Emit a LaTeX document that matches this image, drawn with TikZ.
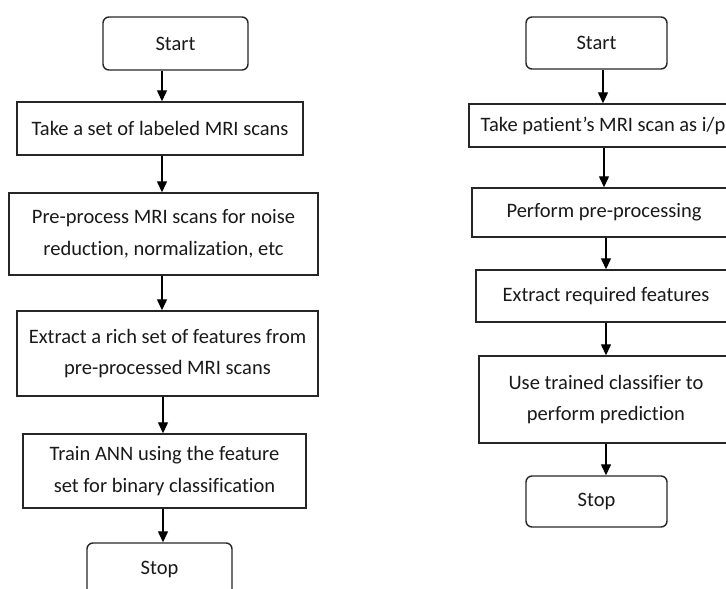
\documentclass[tikz,border=0pt]{standalone}
\usepackage{fontspec}
\setmainfont{Carlito}[Ligatures=NoCommon]
\usetikzlibrary{arrows.meta}
\begin{document}
\begin{tikzpicture}[x=1pt,y=-1pt,
  box/.style={draw=black!85, line width=1.4pt, inner sep=0pt, align=center,
    font=\fontsize{20.5}{31.5}\selectfont, text=black!90},
  term/.style={box, rounded corners=6pt},
  arr/.style={line width=1.3pt, draw=black, -{Triangle[length=11pt,width=10pt]}}]
\useasboundingbox (0,0) rectangle (726,589);
\clip (0,0) rectangle (726,589);
% left flow
\node[term, minimum width=145pt, minimum height=53pt] (ls) at (175.5,43.5) {Start};
\node[box, minimum width=286pt, minimum height=53pt] (l1) at (160,128.5) {Take a set of labeled MRI scans};
\node[box, minimum width=309pt, minimum height=82pt] (l2) at (163.5,234) {Pre-process MRI scans for noise\\reduction, normalization, etc};
\node[box, minimum width=301pt, minimum height=85pt] (l3) at (167.5,353.5) {Extract a rich set of features from\\pre-processed MRI scans};
\node[box, minimum width=283pt, minimum height=74pt] (l4) at (164.5,471) {Train ANN using the feature\\set for binary classification};
\node[term, minimum width=145pt, minimum height=53pt] (le) at (159.5,569.5) {Stop};
\coordinate (la) at (162,0);
\coordinate (lb) at (163,0);
\draw[arr] (ls.south -| la) -- (l1.north -| la);
\draw[arr] (l1.south -| la) -- (l2.north -| la);
\draw[arr] (l2.south -| la) -- (l3.north -| la);
\draw[arr] (l3.south -| lb) -- (l4.north -| lb);
\draw[arr] (l4.south -| lb) -- (le.north -| lb);
% right flow
\node[term, minimum width=141pt, minimum height=52pt] (rs) at (596.5,43) {Start};
\node[box, minimum width=268pt, minimum height=43pt] (r1) at (603,125.5) {Take patient’s MRI scan as i/p};
\node[box, minimum width=264pt, minimum height=49pt] (r2) at (604,212.5) {Perform pre-processing};
\node[box, minimum width=260pt, minimum height=52pt] (r3) at (606,296) {Extract required features};
\node[box, minimum width=254pt, minimum height=87pt] (r4) at (606,399.5) {Use trained classifier to\\perform prediction};
\node[term, minimum width=141pt, minimum height=51pt] (re) at (596.5,501.5) {Stop};
\coordinate (ra) at (603,0);
\coordinate (rb) at (604,0);
\coordinate (rc) at (606,0);
\draw[arr] (rs.south -| ra) -- (r1.north -| ra);
\draw[arr] (r1.south -| rb) -- (r2.north -| rb);
\draw[arr] (r2.south -| rc) -- (r3.north -| rc);
\draw[arr] (r3.south -| rc) -- (r4.north -| rc);
\draw[arr] (r4.south -| rc) -- (re.north -| rc);
\end{tikzpicture}
\end{document}
